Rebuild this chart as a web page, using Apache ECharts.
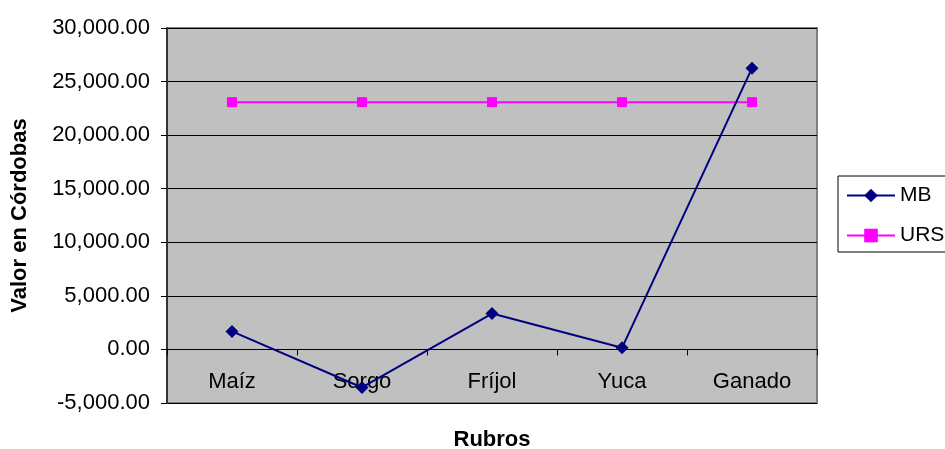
<!DOCTYPE html>
<html>
<head>
<meta charset="utf-8">
<script src="https://cdn.jsdelivr.net/npm/echarts@6/dist/echarts.min.js"></script>
<style>
  html, body { margin: 0; padding: 0; background: #fff; }
  #main { width: 945px; height: 449px; }
</style>
</head>
<body>
<div id="main"></div>
<script>
  const categories = ['Maíz', 'Sorgo', 'Fríjol', 'Yuca', 'Ganado'];
  const mbValues = [1680, -3550, 3350, 150, 26250];
  const ursValues = [23080, 23080, 23080, 23080, 23080];

  const myChart = echarts.init(document.getElementById('main'));

  const fmt = v => v.toFixed(2).replace(/\B(?=(\d{3})+(?!\d))/g, ',');

  const option = {
    backgroundColor: '#ffffff',
    animation: false,
    textStyle: { fontFamily: 'Liberation Sans, Arial, sans-serif' },
    grid: {
      left: 167,
      top: 28,
      width: 650,
      height: 375,
      containLabel: false,
      outerBoundsMode: 'none',
      show: true,
      backgroundColor: '#C0C0C0',
      borderColor: '#808080',
      borderWidth: 2
    },
    legend: {
      orient: 'vertical',
      left: 838,
      top: 176,
      padding: [9, 50, 6, 8],
      itemGap: 19,
      itemWidth: 48,
      itemHeight: 17,
      borderColor: '#000',
      borderWidth: 1,
      backgroundColor: '#fff',
      textStyle: { fontSize: 21, color: '#000' },
      data: ['MB', 'URS']
    },
    xAxis: {
      type: 'category',
      data: categories,
      name: 'Rubros',
      nameLocation: 'middle',
      nameGap: 26,
      nameTextStyle: { fontSize: 22, fontWeight: 'bold', color: '#000' },
      axisLine: { onZero: true, lineStyle: { color: '#000', width: 1 } },
      axisTick: { show: true, length: 6, lineStyle: { color: '#000' } },
      axisLabel: { fontSize: 22, color: '#000', margin: -32 },
      z: 3
    },
    yAxis: {
      type: 'value',
      min: -5000,
      max: 30000,
      interval: 5000,
      name: 'Valor en Córdobas',
      nameLocation: 'middle',
      nameGap: 136,
      nameRotate: 90,
      nameTextStyle: { fontSize: 22, fontWeight: 'bold', color: '#000' },
      axisLine: { show: true, lineStyle: { color: '#333', width: 2 } },
      axisTick: { show: true, length: 6, lineStyle: { color: '#000' } },
      axisLabel: { fontSize: 22, color: '#000', margin: 17, formatter: fmt },
      splitLine: { show: true, lineStyle: { color: '#000', width: 1 } }
    },
    series: [
      {
        name: 'MB',
        type: 'line',
        data: mbValues,
        symbol: 'diamond',
        symbolSize: 13,
        lineStyle: { color: '#000080', width: 2 },
        itemStyle: { color: '#000080' },
        z: 5
      },
      {
        name: 'URS',
        type: 'line',
        data: ursValues,
        symbol: 'rect',
        symbolSize: 10,
        lineStyle: { color: '#FF00FF', width: 2 },
        itemStyle: { color: '#FF00FF' },
        z: 4
      }
    ]
  };

  myChart.setOption(option);
</script>
</body>
</html>
